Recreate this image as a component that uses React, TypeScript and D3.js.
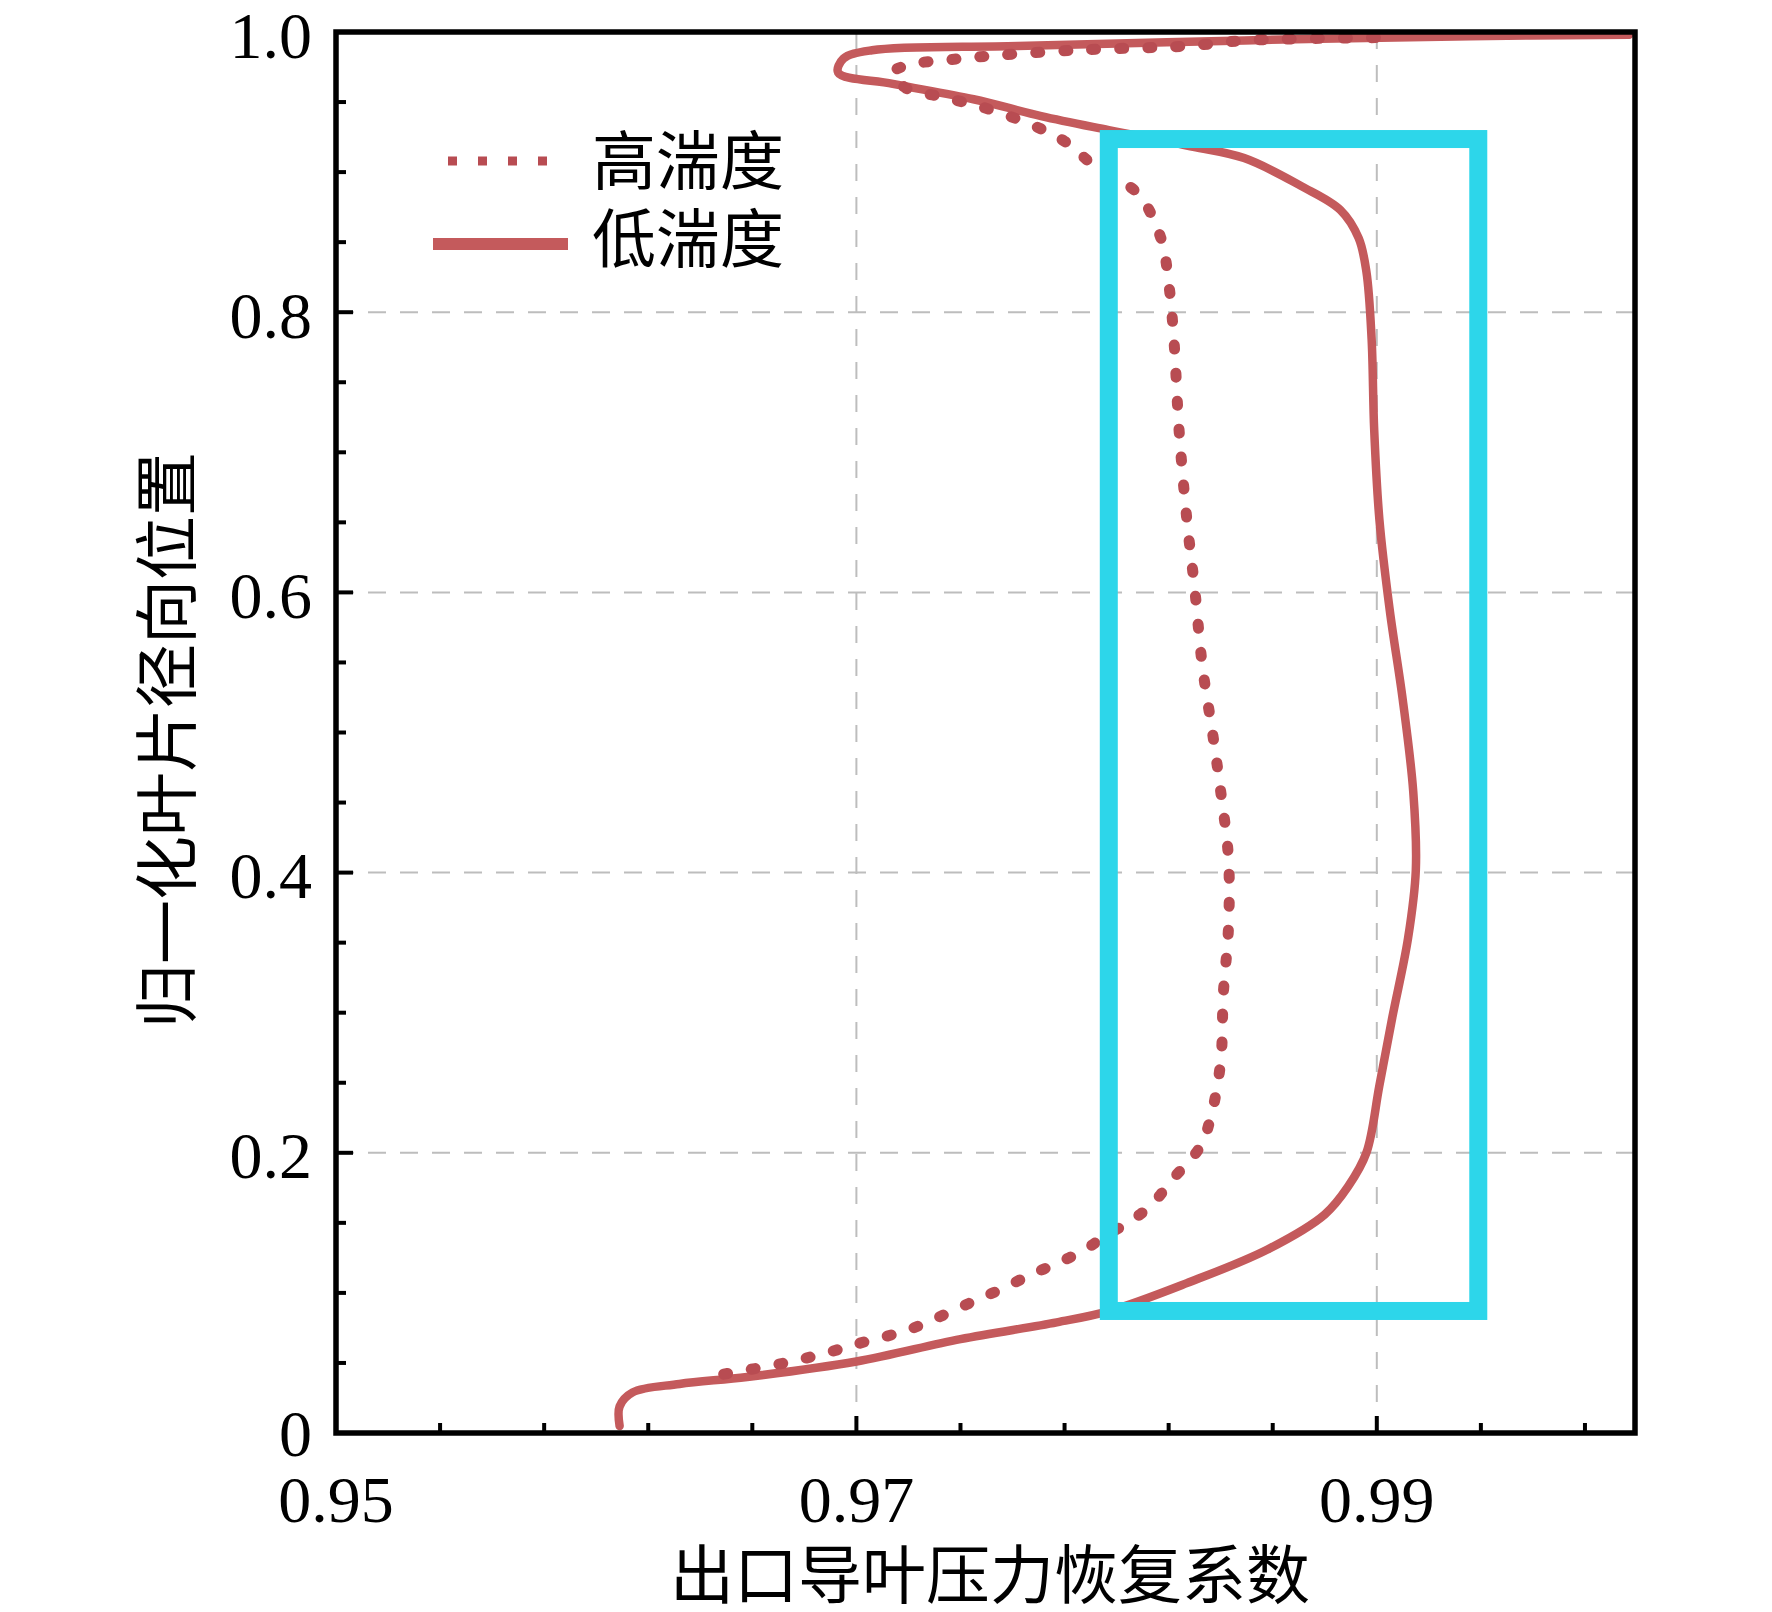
import * as d3 from 'd3';

// 低湍度 (solid)
const lowPos = [0.005, 0.019, 0.029, 0.035, 0.040, 0.051, 0.067, 0.079, 0.087, 0.107, 0.131, 0.156, 0.176, 0.200, 0.248, 0.297, 0.353, 0.402, 0.458, 0.523, 0.587, 0.652, 0.716, 0.781, 0.829, 0.853, 0.873, 0.890, 0.910, 0.919, 0.930, 0.940, 0.952, 0.963, 0.971, 0.981, 0.987, 0.990, 0.994, 0.997, 0.998];
const lowCoef = [0.9609, 0.9609, 0.9614, 0.9632, 0.9658, 0.9700, 0.9740, 0.9777, 0.9797, 0.9827, 0.9858, 0.9880, 0.9889, 0.9896, 0.9901, 0.9906, 0.9912, 0.9915, 0.9914, 0.9910, 0.9905, 0.9901, 0.9899, 0.9898, 0.9896, 0.9893, 0.9886, 0.9871, 0.9849, 0.9827, 0.9797, 0.9771, 0.9745, 0.9714, 0.9693, 0.9695, 0.9706, 0.9762, 0.9849, 0.9936, 0.9997];

// 高湍度 (dotted)
const highPos = [0.042, 0.051, 0.058, 0.065, 0.073, 0.083, 0.094, 0.103, 0.113, 0.121, 0.131, 0.140, 0.152, 0.164, 0.180, 0.204, 0.224, 0.265, 0.313, 0.361, 0.410, 0.458, 0.498, 0.547, 0.603, 0.652, 0.716, 0.781, 0.821, 0.853, 0.885, 0.902, 0.922, 0.934, 0.946, 0.954, 0.960, 0.971, 0.976, 0.981, 0.987, 0.990, 0.994, 0.996];
const highCoef = [0.9649, 0.9675, 0.9690, 0.9703, 0.9719, 0.9732, 0.9745, 0.9756, 0.9767, 0.9777, 0.9788, 0.9795, 0.9806, 0.9814, 0.9821, 0.9832, 0.9836, 0.9840, 0.9841, 0.9843, 0.9843, 0.9840, 0.9837, 0.9833, 0.9830, 0.9827, 0.9824, 0.9822, 0.9820, 0.9817, 0.9808, 0.9793, 0.9780, 0.9767, 0.9749, 0.9732, 0.9719, 0.9714, 0.9719, 0.9740, 0.9784, 0.9827, 0.9850, 0.9900];

// highlighted region (cyan box)
const boxCoef = [0.9797, 0.9939];
const boxPos = [0.0871, 0.9236];

const xTicks = [0.95, 0.97, 0.99];
const xTickLabels = ['0.95', '0.97', '0.99'];
const yTicks = [0, 0.2, 0.4, 0.6, 0.8, 1.0];
const yTickLabels = ['0', '0.2', '0.4', '0.6', '0.8', '1.0'];
const seriesNames = ['高湍度', '低湍度'];

const W = 1772, H = 1612;
const L = 336, R = 1635, T = 32, B = 1433;
const RED = '#c45a5c';
const DOT_RED = '#b84c52';
const NUM_FONT = '"Liberation Serif", "Times New Roman", serif';
const CJK_FONT = '"Liberation Serif", "Noto Sans CJK SC", serif';

export default function App() {
  const x = d3.scaleLinear().domain([0.95, 1.0]).range([L, R + 2]);
  const y = d3.scaleLinear().domain([0, 1]).range([B, T]);

  const line = d3
    .line<[number, number]>()
    .x((d) => x(d[0]))
    .y((d) => y(d[1]))
    .curve(d3.curveCatmullRom.alpha(0.5));

  const lowPath = line(lowCoef.map((c, i) => [c, lowPos[i]]));
  const highPath = line(highCoef.map((c, i) => [c, highPos[i]]));

  const xMinor = d3.range(0.954, 1.0, 0.004).filter((v) => !xTicks.some((t) => Math.abs(t - v) < 1e-6));
  const yMinor = d3.range(0.05, 1.0, 0.05).filter((v) => !yTicks.some((t) => Math.abs(t - v) < 1e-6));

  return (
    <svg width={W} height={H} style={{ position: 'absolute', left: 0, top: 0, background: '#fff' }}>
      <defs>
        <clipPath id="plot">
          <rect x={L} y={T} width={R - L} height={B - T} />
        </clipPath>
      </defs>

      {/* grid */}
      <g stroke="#bdbdbd" strokeWidth={2}>
        {xTicks.slice(1).map((t) => (
          <line key={t} x1={x(t)} x2={x(t)} y1={T} y2={B} strokeDasharray="17 16" />
        ))}
        {yTicks.slice(1, -1).map((t) => (
          <line key={t} x1={L} x2={R} y1={y(t)} y2={y(t)} strokeDasharray="18 14" />
        ))}
      </g>

      {/* curves */}
      <g clipPath="url(#plot)" fill="none">
        <path d={lowPath ?? ''} stroke={RED} strokeWidth={8.5} strokeLinejoin="round" strokeLinecap="round" />
        <path d={highPath ?? ''} stroke={DOT_RED} strokeWidth={11} strokeDasharray="4 24" strokeLinecap="round" />
      </g>

      {/* cyan box */}
      <rect
        x={x(boxCoef[0])}
        y={y(boxPos[1])}
        width={x(boxCoef[1]) - x(boxCoef[0])}
        height={y(boxPos[0]) - y(boxPos[1])}
        fill="none"
        stroke="#2dd6ea"
        strokeWidth={18}
      />

      {/* axes frame */}
      <rect x={L} y={T} width={R - L} height={B - T} fill="none" stroke="#000" strokeWidth={5.5} />

      {/* ticks */}
      <g stroke="#000" strokeWidth={4}>
        {xTicks.map((t) => (
          <line key={t} x1={x(t)} x2={x(t)} y1={B} y2={B - 17} />
        ))}
        {xMinor.map((t) => (
          <line key={t} x1={x(t)} x2={x(t)} y1={B} y2={B - 10} />
        ))}
        {yTicks.map((t) => (
          <line key={t} x1={L} x2={L + 17} y1={y(t)} y2={y(t)} />
        ))}
        {yMinor.map((t) => (
          <line key={t} x1={L} x2={L + 10} y1={y(t)} y2={y(t)} />
        ))}
      </g>

      {/* tick labels */}
      <g fontFamily={NUM_FONT} fontSize={66} fill="#000">
        {xTicks.map((t, i) => (
          <text key={t} x={x(t)} y={1522} textAnchor="middle">{xTickLabels[i]}</text>
        ))}
        {yTicks.map((t, i) => (
          <text key={t} x={312} y={y(t) + (t === 0 ? 0 : 3)} textAnchor="end" dominantBaseline="central">{yTickLabels[i]}</text>
        ))}
      </g>

      {/* axis titles */}
      <text x={990} y={1598} textAnchor="middle" fontFamily={CJK_FONT} fontSize={64} fill="#000">
        出口导叶压力恢复系数
      </text>
      <text
        transform="translate(168,740) rotate(-90)"
        textAnchor="middle"
        dominantBaseline="central"
        fontFamily={CJK_FONT}
        fontSize={64}
        fill="#000"
      >
        归一化叶片径向位置
      </text>

      {/* legend */}
      <line x1={448} x2={557} y1={161} y2={161} stroke={DOT_RED} strokeWidth={9} strokeDasharray="9 21" />
      <line x1={433} x2={568} y1={244} y2={244} stroke={RED} strokeWidth={12} />
      <g fontFamily={CJK_FONT} fontSize={64} fill="#000">
        <text x={592} y={162} dominantBaseline="central">{seriesNames[0]}</text>
        <text x={592} y={240} dominantBaseline="central">{seriesNames[1]}</text>
      </g>
    </svg>
  );
}
